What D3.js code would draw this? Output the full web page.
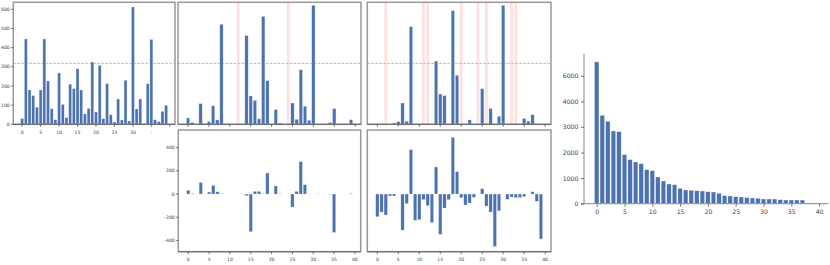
<!DOCTYPE html>
<html>
<head>
<meta charset="utf-8">
<script src="https://cdn.jsdelivr.net/npm/d3@7"></script>
<style>
  body { margin: 0; background: #fff; }
  svg { display: block; font-family: "DejaVu Sans", sans-serif; }
</style>
</head>
<body>
<svg id="chart" width="830" height="265"></svg>
<script>
// bin index 0..39 shared by every panel
const bins = d3.range(40);

// top row: counts per bin
const countsAll = [30, 445, 179, 150, 89, 179, 445, 226, 82, 24,
                   268, 104, 35, 209, 186, 290, 179, 54, 83, 325,
                   64, 308, 30, 212, 50, 12, 132, 23, 230, 17,
                   612, 80, 132, 3, 212, 443, 24, 14, 68, 99];
const countsB = [33, 10, 0, 108, 3, 14, 97, 23, 522, 1,
                 0, 1, 0, 1, 463, 148, 125, 28, 563, 228,
                 0, 77, 7, 0, 0, 111, 26, 285, 94, 21,
                 621, 1, 1, 0, 10, 82, 1, 0, 0, 24];
const countsC = [1, 0, 0, 1, 7, 14, 111, 16, 510, 0,
                 0, 0, 0, 0, 330, 158, 150, 1, 593, 256,
                 0, 0, 23, 0, 0, 186, 0, 82, 1, 42,
                 621, 0, 0, 0, 1, 31, 16, 50, 1, 1];
// bottom row: differences per bin
const diffB = [32, 5, 0, 100, 0, 17, 75, 20, 3, 0,
               0, 0, 0, 2, -14, -325, 23, 23, 3, 181,
               0, 69, 3, 0, 0, -112, 23, 279, 81, 0,
               0, 2, 0, 0, -3, -331, 0, 0, 0, 5];
const diffC = [-196, -155, -181, -17, -17, 0, -311, -83, 383, -227,
               -222, -49, -101, -247, 233, -348, -121, -49, 489, 193,
               -32, -95, -78, -29, 0, 46, -104, -155, -452, -144,
               0, -46, -26, -32, -32, -23, 0, 20, -63, -388];
// right panel: sorted totals
const sortedTotals = [5541, 3455, 3220, 2842, 2816, 1917, 1721, 1630, 1565, 1330,
                      1291, 1043, 887, 769, 743, 600, 535, 522, 508, 495,
                      469, 456, 404, 313, 300, 274, 261, 235, 222, 209,
                      183, 183, 183, 156, 143, 143, 143, 143, 26, 26];

const threshold = 318;
const flaggedB = [12, 24];
const flaggedC = [2, 11, 12, 20, 24, 26, 32, 33];

const xTicks = [0, 5, 10, 15, 20, 25, 30, 35, 40];
const xTickLabelsTopLeft = ["0", "5", "10", "15", "20", "25", "30", ":", ""];
const countTicks = [0, 100, 200, 300, 400, 500, 600];
const diffTicks = [-400, -200, 0, 200, 400];
const totalTicks = [0, 1000, 2000, 3000, 4000, 5000];
const totalTickLabels = ["0", "1000", "2000", "3000", "4000", "6000"];

const svg = d3.select('#chart');
const barColor = "#4c72b0";
const textColor = "#444";

function drawPanel(p) {
    const g = svg.append("g");
    const x = d3.scaleLinear().domain([-2.4, 41.4]).range([p.left, p.right]);
    const y = d3.scaleLinear().domain(p.yDomain).range([p.bottom, p.top]);
    const bw = x(0.8) - x(0);

    // shaded flagged bins
    g.selectAll("rect.band")
        .data(p.bands || [])
        .enter().append("rect")
        .attr("x", d => x(d - 0.32))
        .attr("width", x(0.64) - x(0))
        .attr("y", p.top)
        .attr("height", p.bottom - p.top)
        .attr("fill", "#fde0df");

    if (p.threshold) {
        g.append("line")
            .attr("x1", p.left).attr("x2", p.right)
            .attr("y1", y(threshold)).attr("y2", y(threshold))
            .attr("stroke", "#e08a8a")
            .attr("stroke-width", 0.8)
            .attr("stroke-dasharray", "2.5,1.5");
    }

    g.selectAll("rect.bar")
        .data(bins)
        .enter().append("rect")
        .attr("x", d => x(d) - bw / 2)
        .attr("width", bw)
        .attr("y", d => y(Math.max(0, p.values[d])))
        .attr("height", d => Math.abs(y(p.values[d]) - y(0)))
        .attr("fill", barColor)
        .attr("stroke", "rgba(255,255,255,0.55)")
        .attr("stroke-width", 0.5);

    // frame
    g.append("rect")
        .attr("x", p.left).attr("y", p.top)
        .attr("width", p.right - p.left).attr("height", p.bottom - p.top)
        .attr("fill", "none")
        .attr("stroke", "#999")
        .attr("stroke-width", 1.5);
    g.append("line")
        .attr("x1", p.left).attr("x2", p.right)
        .attr("y1", p.bottom).attr("y2", p.bottom)
        .attr("stroke", "#666").attr("stroke-width", 1);

    // x ticks
    const xa = g.append("g");
    xa.selectAll("line")
        .data(xTicks)
        .enter().append("line")
        .attr("x1", d => x(d)).attr("x2", d => x(d))
        .attr("y1", p.bottom).attr("y2", p.bottom + 2.5)
        .attr("stroke", "#444").attr("stroke-width", 0.7);
    if (p.xLabels) {
        xa.selectAll("text")
            .data(xTicks)
            .enter().append("text")
            .attr("x", d => x(d))
            .attr("y", p.bottom + 9.5)
            .attr("text-anchor", "middle")
            .attr("font-size", 4.6)
            .attr("fill", textColor)
            .text((d, i) => p.xLabels[i]);
    }

    if (p.yTicks) {
        const ya = g.append("g");
        ya.selectAll("line")
            .data(p.yTicks)
            .enter().append("line")
            .attr("x1", p.left - 2.5).attr("x2", p.left)
            .attr("y1", d => y(d)).attr("y2", d => y(d))
            .attr("stroke", "#444").attr("stroke-width", 0.7);
        ya.selectAll("text")
            .data(p.yTicks)
            .enter().append("text")
            .attr("x", p.left - 3.5)
            .attr("y", d => y(d) + 1.6)
            .attr("text-anchor", "end")
            .attr("font-size", 4.6)
            .attr("fill", textColor)
            .text(d => d);
    }
}

drawPanel({left: 13.3, right: 175, top: 2.3, bottom: 124.3, yDomain: [0, 636.5],
           values: countsAll, yTicks: countTicks, xLabels: xTickLabelsTopLeft, threshold: true});
drawPanel({left: 178, right: 361, top: 2.3, bottom: 124.3, yDomain: [0, 636.5],
           values: countsB, bands: flaggedB, threshold: true});
drawPanel({left: 367.3, right: 551, top: 2.3, bottom: 124.3, yDomain: [0, 636.5],
           values: countsC, bands: flaggedC, threshold: true});
drawPanel({left: 178.3, right: 360.7, top: 130, bottom: 251.7, yDomain: [-497, 552],
           values: diffB, yTicks: diffTicks, xLabels: xTicks.map(String)});
drawPanel({left: 367.3, right: 551, top: 130, bottom: 251.7, yDomain: [-497, 552],
           values: diffC, xLabels: xTicks.map(String)});

// right panel, open spines
(function () {
    const g = svg.append("g");
    const x = d3.scaleLinear().domain([-2.88, 41.6]).range([580.7, 828]);
    const y = d3.scaleLinear().domain([0, 5850]).range([203.7, 54]);
    const bw = x(0.8) - x(0);

    g.selectAll("rect")
        .data(bins)
        .enter().append("rect")
        .attr("x", d => x(d) - bw / 2)
        .attr("width", bw)
        .attr("y", d => y(sortedTotals[d]))
        .attr("height", d => y(0) - y(sortedTotals[d]))
        .attr("fill", barColor)
        .attr("stroke", "rgba(255,255,255,0.55)")
        .attr("stroke-width", 0.5);

    g.append("line")
        .attr("x1", x.range()[0]).attr("x2", x.range()[1])
        .attr("y1", y(0)).attr("y2", y(0))
        .attr("stroke", "#999").attr("stroke-width", 1.2);
    g.append("line")
        .attr("x1", 584).attr("x2", 584)
        .attr("y1", y.range()[1]).attr("y2", y(0))
        .attr("stroke", "#999").attr("stroke-width", 1.2);

    const xa = g.append("g").attr("transform", `translate(0,${y(0)})`)
        .call(d3.axisBottom(x).tickValues(xTicks).tickFormat(d3.format("d"))
              .tickSize(3).tickPadding(2.5));
    xa.select(".domain").remove();
    const ya = g.append("g").attr("transform", "translate(584,0)")
        .call(d3.axisLeft(y).tickValues(totalTicks)
              .tickFormat((d, i) => totalTickLabels[i])
              .tickSize(3).tickPadding(2.5));
    ya.select(".domain").remove();
    g.selectAll(".tick line").attr("stroke", "#444").attr("stroke-width", 0.7);
    g.selectAll(".tick text")
        .attr("font-family", "DejaVu Sans, sans-serif")
        .attr("font-size", 6.2)
        .attr("fill", textColor);
})();
</script>
</body>
</html>
